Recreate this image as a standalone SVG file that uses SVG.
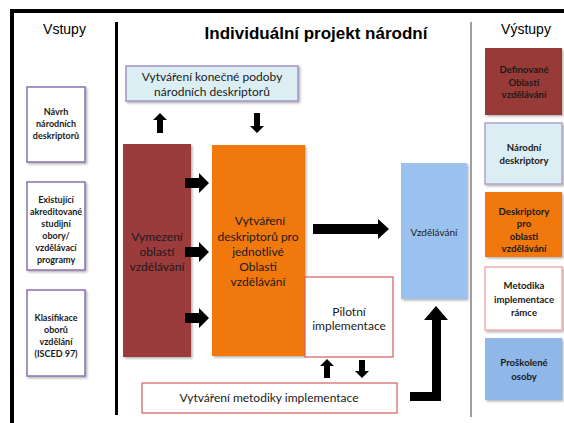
<svg xmlns="http://www.w3.org/2000/svg" width="564" height="423" viewBox="0 0 564 423">
<defs>
<filter id="sh" x="-10%" y="-10%" width="130%" height="130%">
<feDropShadow dx="1.5" dy="1.5" stdDeviation="1.2" flood-color="#000" flood-opacity="0.3"/>
</filter>
<style>
.t{font-family:Lato,"Open Sans","Liberation Sans",sans-serif;text-anchor:middle;fill:#1a1a1a}
.s{font-size:12px}
.b{font-size:9px;font-weight:bold}
.o{font-size:9.6px;font-weight:bold}
.h{font-family:"Liberation Sans",Arial,sans-serif;text-anchor:middle;fill:#000}
.in{fill:#fff;stroke:#8a72ad;stroke-width:1.5}
.arr{fill:#000}
</style>
</defs>
<rect width="564" height="423" fill="#fff"/>
<g id="frame">
<line x1="10" y1="11" x2="564" y2="11" stroke="#000" stroke-width="4"/>
<line x1="12" y1="9" x2="12" y2="423" stroke="#000" stroke-width="4"/>
<line x1="116.5" y1="22" x2="116.5" y2="415" stroke="#000" stroke-width="3"/>
<line x1="471" y1="22" x2="471" y2="417" stroke="#7f7f7f" stroke-width="1.5"/>
</g>
<text class="h" x="64.5" y="34" font-size="14">Vstupy</text>
<text class="h" x="526" y="34" font-size="14">Výstupy</text>
<text class="h" x="316" y="39" font-size="17" font-weight="bold">Individuální projekt národní</text>
<g id="in1">
<rect class="in" x="27" y="87" width="58" height="75" filter="url(#sh)"/>
<text class="t b" x="56" y="115">Návrh</text>
<text class="t b" x="56" y="127">národních</text>
<text class="t b" x="56" y="139">deskriptorů</text>
</g>
<g id="in2">
<rect class="in" x="27" y="182" width="58" height="88" filter="url(#sh)"/>
<text class="t b" x="56" y="203">Existující</text>
<text class="t b" x="56" y="215">akreditované</text>
<text class="t b" x="56" y="227">studijní</text>
<text class="t b" x="56" y="239">obory/</text>
<text class="t b" x="56" y="251">vzdělávací</text>
<text class="t b" x="56" y="263">programy</text>
</g>
<g id="in3">
<rect class="in" x="27" y="290" width="58" height="86" filter="url(#sh)"/>
<text class="t b" x="56" y="321">Klasifikace</text>
<text class="t b" x="56" y="333">oborů</text>
<text class="t b" x="56" y="345">vzdělání</text>
<text class="t b" x="56" y="357">(ISCED 97)</text>
</g>
<g id="final">
<rect x="126" y="66" width="172" height="35" fill="#dbeef4" stroke="#a392c4" stroke-width="1.5" filter="url(#sh)"/>
<text class="t s" x="212" y="81">Vytváření konečné podoby</text>
<text class="t s" x="212" y="96">národních deskriptorů</text>
</g>
<g id="vymezeni">
<rect x="123" y="144" width="68" height="213" fill="#9c3b3b" filter="url(#sh)"/>
<text class="t s" x="157" y="241" fill="#2a0a0a">Vymezení</text>
<text class="t s" x="157" y="256">oblastí</text>
<text class="t s" x="157" y="271">vzdělávání</text>
</g>
<g id="deskriptory">
<rect x="212" y="145" width="93" height="211" fill="#f07810" filter="url(#sh)"/>
<text class="t s" x="260" y="225">Vytváření</text>
<text class="t s" x="258" y="241">deskriptorů pro</text>
<text class="t s" x="258" y="256">jednotlivé</text>
<text class="t s" x="258" y="271">Oblasti</text>
<text class="t s" x="258" y="286">vzdělávání</text>
</g>
<g id="pilotni">
<rect x="305" y="277" width="88" height="80" fill="#fff" stroke="#d06060" stroke-width="1.2"/>
<text class="t s" x="349" y="316">Pilotní</text>
<text class="t s" x="349" y="330">implementace</text>
</g>
<g id="vzdelavani">
<rect x="401" y="163" width="66" height="136" fill="#9bc2ee" filter="url(#sh)"/>
<text class="t" x="434" y="236" font-size="10">Vzdělávání</text>
</g>
<g id="metodika">
<rect x="142" y="383" width="255" height="30" fill="#fff" stroke="#d06060" stroke-width="1.2"/>
<text class="t s" x="269" y="402">Vytváření metodiky implementace</text>
</g>
<g id="out1">
<rect x="485" y="48" width="77" height="67" fill="#983a38" filter="url(#sh)"/>
<text class="t o" x="524" y="73" fill="#2a0a0a">Definované</text>
<text class="t o" x="524" y="86">Oblasti</text>
<text class="t o" x="524" y="98">vzdělávání</text>
</g>
<g id="out2">
<rect x="485" y="123" width="77" height="61" fill="#dbeef4" stroke="#b3a2c7" stroke-width="1.5" filter="url(#sh)"/>
<text class="t o" x="524" y="151">Národní</text>
<text class="t o" x="524" y="164">deskriptory</text>
</g>
<g id="out3">
<rect x="485" y="192" width="77" height="65" fill="#f07810" filter="url(#sh)"/>
<text class="t o" x="524" y="215">Deskriptory</text>
<text class="t o" x="524" y="227">pro</text>
<text class="t o" x="524" y="240">oblasti</text>
<text class="t o" x="524" y="252">vzdělávání</text>
</g>
<g id="out4">
<rect x="485" y="267" width="77" height="63" fill="#fff" stroke="#f0b0b0" stroke-width="1.5" filter="url(#sh)"/>
<text class="t o" x="524" y="289">Metodika</text>
<text class="t o" x="524" y="303">implementace</text>
<text class="t o" x="524" y="316">rámce</text>
</g>
<g id="out5">
<rect x="485" y="338" width="77" height="62" fill="#8fb8e8" filter="url(#sh)"/>
<text class="t o" x="524" y="366">Proškolené</text>
<text class="t o" x="524" y="380">osoby</text>
</g>
<g id="connectors">
<path class="arr" d="M157,133 V120 H153 L160,113 L167,120 H163 V133 Z"/>
<path class="arr" d="M254,113 V126 H250 L257,133 L264,126 H260 V113 Z"/>
<path class="arr" d="M185,178 H199 V173 L209,183 L199,193 V188 H185 Z"/>
<path class="arr" d="M185,247 H199 V242 L209,252 L199,262 V257 H185 Z"/>
<path class="arr" d="M185,313 H199 V308 L209,318 L199,328 V323 H185 Z"/>
<path class="arr" d="M313,224 H378 V219 L389,229 L378,239 V234 H313 Z"/>
<path class="arr" d="M324,378 V366 H320 L327,359 L334,366 H330 V378 Z"/>
<path class="arr" d="M359,360 V371 H355 L362,378 L369,371 H365 V360 Z"/>
<path class="arr" d="M410,392 H432 V320 H424 L436,306 L448,320 H441 V401 H410 Z"/>
</g>
</svg>
